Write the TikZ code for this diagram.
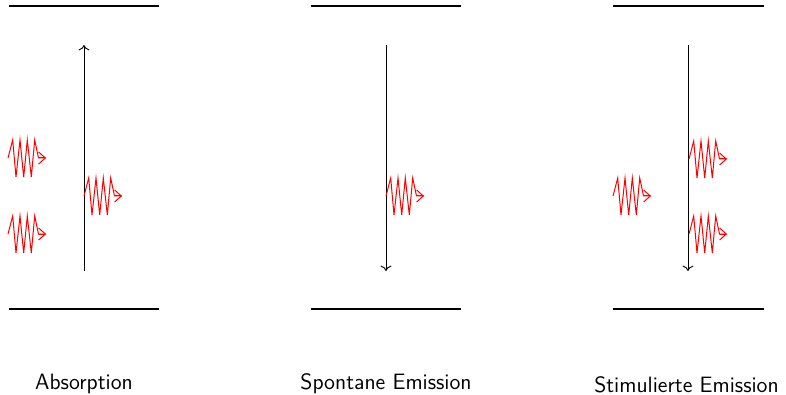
\documentclass[tikz,border=0pt]{standalone}
\usetikzlibrary{arrows.meta}
\begin{document}
\begin{tikzpicture}[x=0.5pt,y=-0.5pt,
  level/.style={line width=0.8pt},
  trans/.style={line width=0.45pt,-{To[length=2.7pt,width=5.5pt]}},
  photon/.pic={
    \draw[red,line width=0.5pt,line join=miter]
      (0,0) -- (4.7,-18) -- (8,19) -- (12,-18) -- (15.7,19) -- (19.3,-18)
      -- (23.3,19) -- (26.7,-18) -- (30.5,0) -- (38,0);
    \draw[red,line width=0.5pt,-{Straight Barb[length=3.3pt,width=6pt]}] (30.5,0) -- (38,0);
  },
  lbl/.style={font=\sffamily\fontsize{11.1}{13}\selectfont,inner sep=0pt}]
\useasboundingbox (0,0) rectangle (786,395);
% Absorption
\coordinate (a1) at (9,6); \coordinate (a2) at (159,6);
\coordinate (a3) at (9,309); \coordinate (a4) at (159,309);
\draw[level] (a1) -- (a2); \draw[level] (a3) -- (a4);
\coordinate (aB) at (84,271); \coordinate (aT) at (84,45);
\draw[trans] (aB) -- (aT);
\pic (pa1) at (8,158) {photon};
\pic (pa2) at (8,234) {photon};
\pic (pa3) at (84,196) {photon};
\node[lbl] (la) at (84,384) {Absorption};
% Spontane Emission
\coordinate (b1) at (311,6); \coordinate (b2) at (461,6);
\coordinate (b3) at (311,309); \coordinate (b4) at (461,309);
\draw[level] (b1) -- (b2); \draw[level] (b3) -- (b4);
\coordinate (bT) at (386,45); \coordinate (bB) at (386,271);
\draw[trans] (bT) -- (bB);
\pic (pb1) at (386,196) {photon};
\node[lbl] (lb) at (386,384) {Spontane Emission};
% Stimulierte Emission
\coordinate (c1) at (613,6); \coordinate (c2) at (764,6);
\coordinate (c3) at (613,309); \coordinate (c4) at (764,309);
\draw[level] (c1) -- (c2); \draw[level] (c3) -- (c4);
\coordinate (cT) at (688,45); \coordinate (cB) at (688,271);
\draw[trans] (cT) -- (cB);
\pic (pc1) at (613,196) {photon};
\pic (pc2) at (689,159) {photon};
\pic (pc3) at (689,234) {photon};
\node[lbl] (lc) at (686.5,385) {Stimulierte Emission};
\end{tikzpicture}
\end{document}
